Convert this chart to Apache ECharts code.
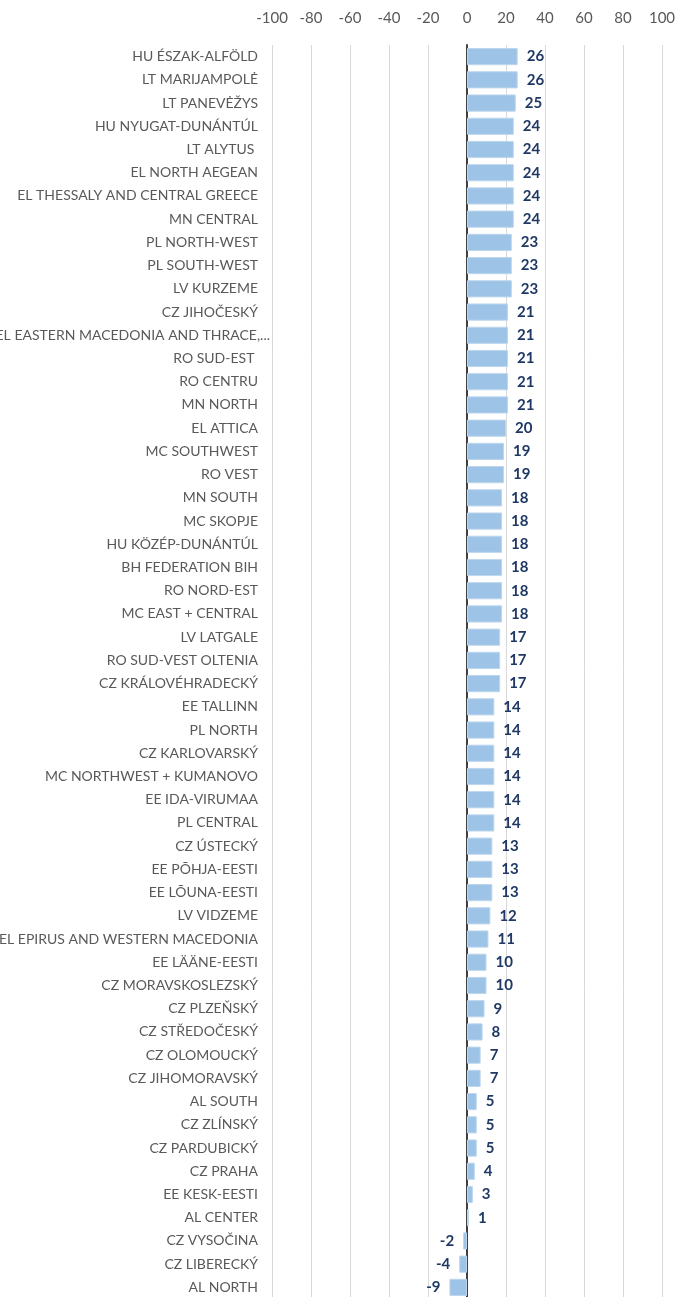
<!DOCTYPE html>
<html>
<head>
<meta charset="utf-8">
<script src="https://cdn.jsdelivr.net/npm/echarts@6/dist/echarts.min.js"></script>
<style>
    html, body { margin: 0; padding: 0; background: #fff; }
    #chart { width: 678px; height: 1297px; }
</style>
</head>
<body>
<div id="chart"></div>
<script>
const regions = [
    'HU ÉSZAK-ALFÖLD', 'LT MARIJAMPOLĖ', 'LT PANEVĖŽYS', 'HU NYUGAT-DUNÁNTÚL', 'LT ALYTUS ',
    'EL NORTH AEGEAN', 'EL THESSALY AND CENTRAL GREECE', 'MN CENTRAL', 'PL NORTH-WEST', 'PL SOUTH-WEST',
    'LV KURZEME', 'CZ JIHOČESKÝ', 'EL EASTERN MACEDONIA AND THRACE,...', 'RO SUD-EST ', 'RO CENTRU',
    'MN NORTH', 'EL ATTICA', 'MC SOUTHWEST', 'RO VEST', 'MN SOUTH',
    'MC SKOPJE', 'HU KÖZÉP-DUNÁNTÚL', 'BH FEDERATION BIH', 'RO NORD-EST', 'MC EAST + CENTRAL',
    'LV LATGALE', 'RO SUD-VEST OLTENIA', 'CZ KRÁLOVÉHRADECKÝ', 'EE TALLINN', 'PL NORTH',
    'CZ KARLOVARSKÝ', 'MC NORTHWEST + KUMANOVO', 'EE IDA-VIRUMAA', 'PL CENTRAL', 'CZ ÚSTECKÝ',
    'EE PÕHJA-EESTI', 'EE LÕUNA-EESTI', 'LV VIDZEME', 'EL EPIRUS AND WESTERN MACEDONIA', 'EE LÄÄNE-EESTI',
    'CZ MORAVSKOSLEZSKÝ', 'CZ PLZEŇSKÝ', 'CZ STŘEDOČESKÝ', 'CZ OLOMOUCKÝ', 'CZ JIHOMORAVSKÝ',
    'AL SOUTH', 'CZ ZLÍNSKÝ', 'CZ PARDUBICKÝ', 'CZ PRAHA', 'EE KESK-EESTI',
    'AL CENTER', 'CZ VYSOČINA', 'CZ LIBERECKÝ', 'AL NORTH'
];
const values = [
    26, 26, 25, 24, 24,
    24, 24, 24, 23, 23,
    23, 21, 21, 21, 21,
    21, 20, 19, 19, 18,
    18, 18, 18, 18, 18,
    17, 17, 17, 14, 14,
    14, 14, 14, 14, 13,
    13, 13, 12, 11, 10,
    10, 9, 8, 7, 7,
    5, 5, 5, 4, 3,
    1, -2, -4, -9
];
const xTicks = [-100, 100, 20]; // min, max, step

const font = 'Lato, "Open Sans", sans-serif';
const myChart = echarts.init(document.getElementById('chart'));

// the cut-off label sits a bit further right, like in the spreadsheet
const categoryData = regions.map(name => {
    if (name.endsWith('...')) {
        return { value: name, textStyle: { padding: [0, -12, 0, 0] } };
    }
    return name;
});

const option = {
    animation: false,
    grid: {
        left: 272,
        right: 16,
        top: 45,
        bottom: -2,
        containLabel: false,
        outerBoundsMode: 'none'
    },
    xAxis: {
        type: 'value',
        position: 'top',
        min: xTicks[0],
        max: xTicks[1],
        interval: xTicks[2],
        axisLine: { show: false },
        axisTick: { show: false },
        axisLabel: {
            color: '#595959',
            fontFamily: font,
            fontSize: 15,
            margin: 19
        },
        splitLine: {
            lineStyle: { color: '#d9d9d9', width: 1 }
        }
    },
    yAxis: {
        type: 'category',
        data: categoryData,
        inverse: true,
        axisTick: { show: false },
        axisLine: {
            onZero: true,
            lineStyle: { color: '#404040', width: 2 }
        },
        axisLabel: {
            color: '#595959',
            fontFamily: font,
            fontSize: 14,
            margin: 14
        }
    },
    series: [{
        type: 'bar',
        data: values.map(v => ({
            value: v,
            label: { position: v < 0 ? 'left' : 'right' }
        })),
        barCategoryGap: '26%',
        itemStyle: {
            color: '#9dc3e6',
            borderColor: '#bdd7ee',
            borderWidth: 1
        },
        label: {
            show: true,
            color: '#1f3864',
            fontWeight: 'bold',
            fontFamily: font,
            fontSize: 15,
            distance: 9
        }
    }]
};

myChart.setOption(option);
</script>
</body>
</html>
